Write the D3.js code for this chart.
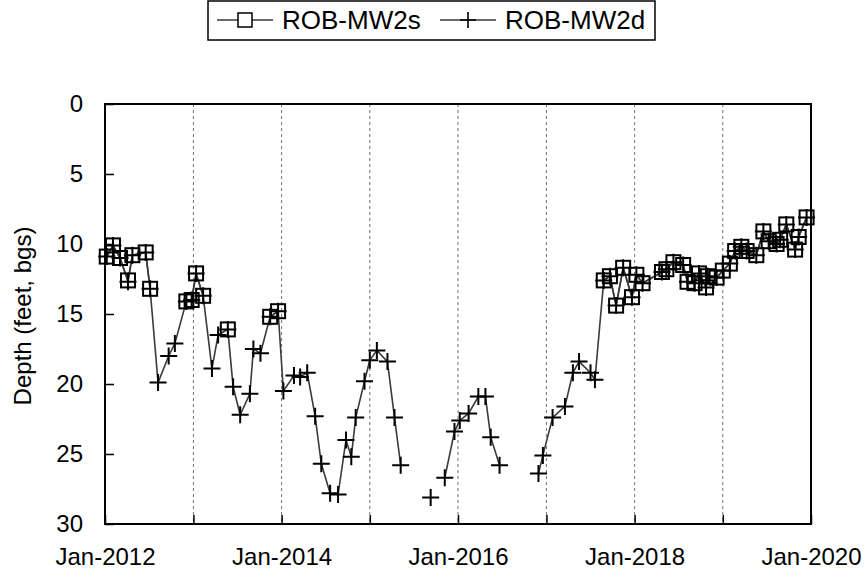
<!DOCTYPE html>
<html>
<head>
<meta charset="utf-8">
<script src="https://cdn.jsdelivr.net/npm/d3@7"></script>
<style>
  body { margin: 0; background: #fff; }
  svg { display: block; font-family: Arial, "Liberation Sans", sans-serif; }
</style>
</head>
<body>
<svg id="chart" width="867" height="578"></svg>
<script>
// ---- Data (decimal year, depth in feet bgs; null = no measurement) ----
const dates = [
  2012.02, 2012.09, 2012.17, 2012.26, 2012.31, 2012.46, 2012.51,
  2012.60, 2012.72, 2012.79,
  2012.92, 2012.98, 2013.03, 2013.11,
  2013.21, 2013.28, 2013.39, 2013.45, 2013.53, 2013.64, 2013.68, 2013.76,
  2013.87, 2013.96,
  2014.02, 2014.14, 2014.21, 2014.29, 2014.38, 2014.45, 2014.55, 2014.64,
  2014.73, 2014.79, 2014.84, 2014.94, 2015.00, 2015.08, 2015.20, 2015.28, 2015.35,
  2015.52, 2015.69, 2015.77,
  2015.85, 2015.96, 2016.02, 2016.12, 2016.23, 2016.31, 2016.37, 2016.47,
  2016.70,
  2016.91, 2016.96, 2017.07, 2017.21, 2017.30, 2017.37, 2017.50, 2017.55,
  2017.65, 2017.72, 2017.79, 2017.87, 2017.97, 2018.02, 2018.09,
  2018.31, 2018.36, 2018.44, 2018.55, 2018.60, 2018.68, 2018.73, 2018.81, 2018.83, 2018.93,
  2019.00, 2019.08, 2019.14, 2019.21, 2019.27, 2019.38, 2019.46, 2019.52, 2019.61, 2019.65,
  2019.72, 2019.82, 2019.86, 2019.95
];
const mw2s = [
  10.9, 10.1, 11.0, 12.6, 10.8, 10.6, 13.2,
  null, null, null,
  14.1, 14.0, 12.1, 13.7,
  null, null, 16.1, null, null, null, null, null,
  15.2, 14.8,
  null, null, null, null, null, null, null, null,
  null, null, null, null, null, null, null, null, null,
  null, null, null,
  null, null, null, null, null, null, null, null,
  null,
  null, null, null, null, null, null, null, null,
  12.6, 12.3, 14.4, 11.7, 13.8, 12.2, 12.8,
  12.0, 11.8, 11.3, 11.5, 12.7, 12.8, 12.1, 13.1, 12.3, 12.4,
  11.9, 11.4, 10.5, 10.2, 10.5, 10.8, 9.1, 9.8, 10.0, 9.7,
  8.6, 10.4, 9.5, 8.1
];
const mw2d = [
  10.9, 10.1, 11.0, 12.7, 10.8, 10.6, 13.2,
  19.9, 18.0, 17.1,
  14.1, 14.0, 12.1, 13.7,
  18.9, 16.5, 16.1, 20.2, 22.2, 20.7, 17.5, 17.8,
  15.2, 14.8,
  20.5, 19.4, 19.5, 19.2, 22.3, 25.7, 27.8, 27.9,
  24.0, 25.2, 22.4, 19.8, 18.3, 17.6, 18.4, 22.4, 25.8,
  null, 28.1, null,
  26.7, 23.4, 22.6, 22.1, 20.9, 20.9, 23.8, 25.8,
  null,
  26.4, 25.1, 22.4, 21.6, 19.2, 18.4, 19.2, 19.7,
  12.6, 12.3, 14.4, 11.7, 13.8, 12.2, 12.8,
  12.0, 11.8, 11.3, 11.5, 12.7, 12.8, 12.1, 13.1, 12.3, 12.4,
  11.9, 11.4, 10.5, 10.2, 10.5, 10.8, 9.1, 9.8, 10.0, 9.7,
  8.6, 10.4, 9.5, 8.1
];
const seriesNames = ["ROB-MW2s", "ROB-MW2d"];
const yTicks = [0, 5, 10, 15, 20, 25, 30];
const yTitle = "Depth (feet, bgs)";

// ---- Helpers ----
function toDate(v) {
  const yr = Math.floor(v);
  const s = new Date(yr, 0, 1), e = new Date(yr + 1, 0, 1);
  return new Date(+s + (v - yr) * (e - s));
}

const svg = d3.select("#chart");
const L = 105, R = 811, T = 104, B = 524;
const FONT = "Arial, 'Liberation Sans', sans-serif";
const FS = 24;

const x = d3.scaleTime()
  .domain([new Date(2012, 0, 1), new Date(2020, 0, 1)])
  .range([L, R]);
const y = d3.scaleLinear().domain([0, 30]).range([T, B]);

// gridlines (yearly, dashed)
const years = d3.timeYear.range(new Date(2013, 0, 1), new Date(2020, 0, 1));
svg.append("g").selectAll("line").data(years).join("line")
  .attr("x1", d => x(d)).attr("x2", d => x(d))
  .attr("y1", T).attr("y2", B)
  .attr("stroke", "#707070").attr("stroke-width", 1)
  .attr("stroke-dasharray", "3,3");

// axes
const yAxis = d3.axisLeft(y).tickValues(yTicks).tickSize(-9).tickPadding(22);
const gy = svg.append("g").attr("transform", `translate(${L},0)`).call(yAxis);
gy.select(".domain").remove();
gy.selectAll(".tick line").attr("stroke", "#000").attr("stroke-width", 1.5);
gy.selectAll("text").attr("font-size", FS).attr("fill", "#000").attr("font-family", FONT);

const allYears = d3.timeYear.range(new Date(2012, 0, 1), new Date(2020, 0, 2));
const fmt = d3.timeFormat("%b-%Y");
const xAxis = d3.axisBottom(x).tickValues(allYears).tickSize(-9).tickPadding(24)
  .tickFormat(d => (d.getFullYear() % 2 === 0 ? fmt(d) : ""));
const gx = svg.append("g").attr("transform", `translate(0,${B})`).call(xAxis);
gx.select(".domain").remove();
gx.selectAll(".tick line").attr("stroke", "#000").attr("stroke-width", 1.5);
gx.selectAll("text").attr("font-size", FS).attr("fill", "#000").attr("font-family", FONT);

// frame
svg.append("rect").attr("x", L).attr("y", T)
  .attr("width", R - L).attr("height", B - T)
  .attr("fill", "none").attr("stroke", "#000").attr("stroke-width", 2);

// y title
svg.append("text")
  .attr("transform", `translate(31,${(T + B) / 2 + 2}) rotate(-90)`)
  .attr("text-anchor", "middle")
  .attr("font-size", FS)
  .attr("font-family", FONT)
  .text(yTitle);

// lines
const pts = (vals) => dates.map((d, i) => ({ d: toDate(d), v: vals[i] }));
const line = d3.line().defined(p => p.v != null).x(p => x(p.d)).y(p => y(p.v));

svg.append("path").datum(pts(mw2d))
  .attr("d", line).attr("fill", "none")
  .attr("stroke", "#3a3a3a").attr("stroke-width", 1.6);
svg.append("path").datum(pts(mw2s))
  .attr("d", line).attr("fill", "none")
  .attr("stroke", "#3a3a3a").attr("stroke-width", 1.6);

// markers
const SQ = 14, PL = 8.5;
svg.append("g").selectAll("rect")
  .data(pts(mw2s).filter(p => p.v != null)).join("rect")
  .attr("x", p => x(p.d) - SQ / 2).attr("y", p => y(p.v) - SQ / 2)
  .attr("width", SQ).attr("height", SQ)
  .attr("fill", "none").attr("stroke", "#000").attr("stroke-width", 2);

svg.append("g").selectAll("path")
  .data(pts(mw2d).filter(p => p.v != null)).join("path")
  .attr("d", p => `M${x(p.d) - PL},${y(p.v)}H${x(p.d) + PL}M${x(p.d)},${y(p.v) - PL}V${y(p.v) + PL}`)
  .attr("fill", "none").attr("stroke", "#000").attr("stroke-width", 2);

// legend
const lg = svg.append("g");
lg.append("rect").attr("x", 208).attr("y", 1).attr("width", 447).attr("height", 39)
  .attr("fill", "#fff").attr("stroke", "#000").attr("stroke-width", 1.5);
// item 1
lg.append("line").attr("x1", 217).attr("x2", 273).attr("y1", 20).attr("y2", 20)
  .attr("stroke", "#3a3a3a").attr("stroke-width", 1.6);
lg.append("rect").attr("x", 238).attr("y", 13).attr("width", 14).attr("height", 14)
  .attr("fill", "#fff").attr("stroke", "#000").attr("stroke-width", 1.5);
lg.append("text").attr("x", 282).attr("y", 29).attr("font-size", 26)
  .attr("font-family", FONT).text(seriesNames[0]);
// item 2
lg.append("line").attr("x1", 440).attr("x2", 496).attr("y1", 20).attr("y2", 20)
  .attr("stroke", "#3a3a3a").attr("stroke-width", 1.6);
lg.append("path").attr("d", "M460,20H476M468,12V28")
  .attr("stroke", "#000").attr("stroke-width", 1.6);
lg.append("text").attr("x", 505).attr("y", 29).attr("font-size", 26)
  .attr("font-family", FONT).text(seriesNames[1]);
</script>
</body>
</html>
